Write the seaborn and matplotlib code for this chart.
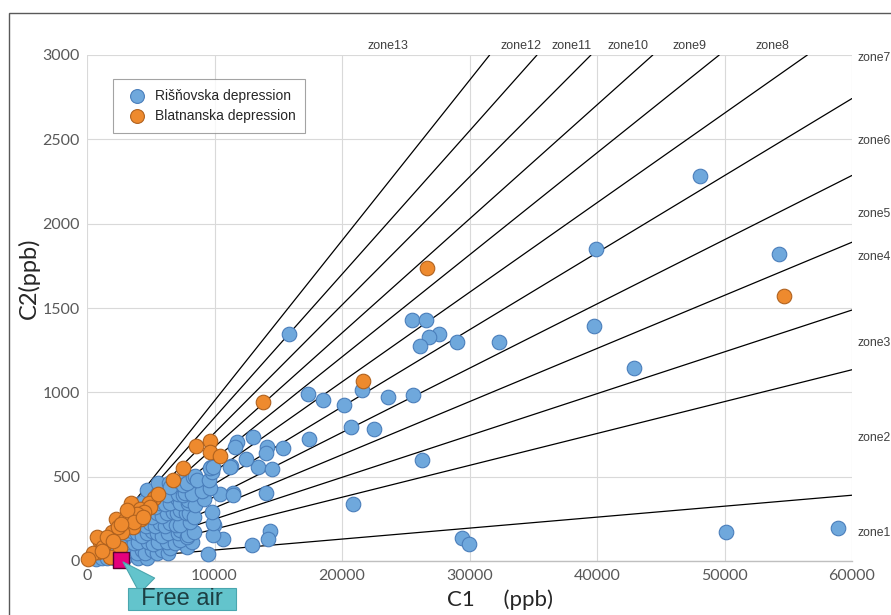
import matplotlib
matplotlib.use("Agg")
import matplotlib.pyplot as plt
import matplotlib.transforms as mtransforms
from matplotlib.patches import Rectangle
import numpy as np
import pandas as pd
import seaborn as sns

# ---------------- data ----------------
risnovska_c1 = [48100, 39900, 54300, 39800, 32300, 42900, 50150, 58900,
                25500, 26550, 27600, 26850, 26150, 29000, 15860, 21540,
                17350, 18480, 20150, 23630, 25580, 12990, 14130, 14030,
                15340, 17430, 20670, 22500, 13430, 14480, 14030, 26290,
                20880, 14350, 14170, 12910, 29380, 29950, 11780, 11600,
                12440, 11270, 11420, 10430, 9960, 10640, 9510,
                700, 1200, 1540, 2100, 3000, 4020, 4700,
                1800, 2330, 2900, 3370, 3900, 4290, 4550, 5070, 5460, 5860, 6370, 6500, 7860,
                2500, 3240, 3700, 4020, 4800, 5200, 5590, 6300, 6900, 7290, 8200,
                2700, 3110, 3500, 3900, 4300, 4680, 5100, 5460, 5900, 6370, 7160, 7290, 7820, 7940, 8400, 9900,
                2900, 3370, 3800, 4155, 4600, 4940, 5300, 5720, 6100, 6500, 7000, 7290, 8100, 9900,
                3600, 4100, 4680, 5100, 5460, 5850, 6250, 6770, 7030, 7290, 7760, 8020, 8400, 9780,
                4100, 4420, 4800, 5300, 5720, 6100, 6500, 7030, 7290, 7940, 7940, 8500, 9170,
                4680, 5460, 5720, 6250, 7160, 7550, 7680, 8210, 8990, 9640, 11470,
                5590, 6450, 6500, 7290, 7550, 7820, 8330, 8470, 8600, 9590, 9780,
                9700, 9640, 9850, 11210]
risnovska_c2 = [2285, 1851, 1822, 1393, 1298, 1145, 170, 193,
                1431, 1427, 1348, 1328, 1275, 1298, 1348, 1012,
                989, 957, 923, 973, 987, 736, 677, 641,
                671, 722, 795, 781, 555, 545, 401, 598,
                337, 178, 130, 95, 134, 101, 706, 677,
                602, 562, 401, 397, 213, 130, 40,
                10, 15, 16, 20, 25, 16, 20,
                50, 65, 45, 65, 50, 65, 46, 65, 46, 65, 46, 75, 85,
                100, 114, 105, 114, 114, 100, 114, 114, 105, 124, 110,
                150, 164, 175, 164, 150, 164, 180, 164, 150, 164, 164, 184, 144, 154, 170, 154,
                200, 223, 210, 223, 205, 223, 210, 223, 205, 223, 215, 213, 230, 223,
                265, 270, 282, 260, 282, 265, 282, 292, 282, 302, 282, 286, 260, 288,
                340, 351, 330, 320, 342, 335, 342, 371, 342, 342, 361, 330, 365,
                420, 400, 430, 391, 400, 391, 401, 400, 416, 430, 391,
                460, 460, 440, 469, 450, 460, 499, 505, 480, 480, 529,
                558, 549, 555, 558]

blatnanska_c1 = [54700, 26650, 21670, 13775, 8520, 9640, 9640, 10430, 7500,
                 6770, 5260, 4880, 3440, 4155, 4940, 3370, 4210, 2300, 2980,
                 3630, 4500, 1940, 2720, 1410, 1019, 760, 890, 494, 1278,
                 2590, 1800, 50, 3900, 1600, 2450, 3150, 1150, 2000, 3700,
                 4400, 5600, 2700]
blatnanska_c2 = [1569, 1740, 1066, 943, 683, 710, 647, 622, 549,
                 482, 371, 342, 343, 307, 322, 282, 247, 250, 243,
                 203, 290, 173, 173, 114, 114, 144, 55, 46, 85,
                 75, 25, 10, 280, 140, 200, 300, 60, 120, 230,
                 260, 400, 220]

free_air_c1 = [2665]
free_air_c2 = [6]

# C2/C1 ratios of the zone boundary lines
zone_ratios = [0.0950, 0.0850, 0.0759, 0.0676, 0.0605, 0.0531,
               0.0457, 0.0381, 0.0315, 0.0248, 0.0189, 0.0065]

x_ticks = [0, 10000, 20000, 30000, 40000, 50000, 60000]
y_ticks = [0, 500, 1000, 1500, 2000, 2500, 3000]

top_zone_labels = ["zone13", "zone12", "zone11", "zone10", "zone9", "zone8"]
top_zone_x = [23600, 34026, 38024, 42414, 47275, 53782]
right_zone_labels = ["zone7", "zone6", "zone5", "zone4", "zone3", "zone2", "zone1"]
right_zone_y = [2984, 2492, 2060, 1800, 1290, 728, 166]

series_names = ["Rišňovska depression", "Blatnanska depression"]

# ---------------- figure ----------------
sns.set_theme(style="white")
plt.rcParams["font.family"] = ["Liberation Sans", "DejaVu Sans"]

W, H = 891, 615
fig = plt.figure(figsize=(W / 100, H / 100), dpi=100)
fig.patch.set_facecolor("white")
ax = fig.add_axes([87 / W, 1 - 561 / H, 765 / W, 506 / H])

ax.set_xlim(0, 60000)
ax.set_ylim(0, 3000)
ax.set_xticks(x_ticks)
ax.set_yticks(y_ticks)
ax.grid(True, color="#d9d9d9", linewidth=0.8, zorder=0)
ax.set_axisbelow(True)
for side in ["top", "right", "left"]:
    ax.spines[side].set_visible(False)
ax.spines["bottom"].set_color("#bfbfbf")
ax.spines["bottom"].set_linewidth(1.0)
ax.tick_params(axis="both", length=0, labelsize=11.5, labelcolor="#595959")
ax.tick_params(axis="y", pad=5)
ax.tick_params(axis="x", pad=6)
for lab in ax.get_xticklabels() + ax.get_yticklabels():
    lab.set_family(["Lato", "DejaVu Sans"])

# zone boundary lines from origin to plot edge
for r in zone_ratios:
    x_end = min(60000, 3000 / r)
    ax.plot([0, x_end], [0, r * x_end], color="black", linewidth=0.9, zorder=2)

df_r = pd.DataFrame({"C1": risnovska_c1, "C2": risnovska_c2})
df_b = pd.DataFrame({"C1": blatnanska_c1, "C2": blatnanska_c2})
sns.scatterplot(data=df_r, x="C1", y="C2", s=110, color="#6FA8DC",
                edgecolor="#4A7EBB", linewidth=0.8, label=series_names[0],
                ax=ax, zorder=3, clip_on=False)
sns.scatterplot(data=df_b, x="C1", y="C2", s=110, color="#EE8A2E",
                edgecolor="#B0621F", linewidth=0.8, label=series_names[1],
                ax=ax, zorder=4, clip_on=False)
sns.scatterplot(x=free_air_c1, y=free_air_c2, marker="s", s=120,
                color="#E5007D", edgecolor="#5a0030", linewidth=1.0,
                ax=ax, zorder=6, legend=False, clip_on=False)

ax.set_xlabel("")
ax.set_ylabel("")

handles, labels = ax.get_legend_handles_labels()
leg = ax.legend(handles[:2], labels[:2], loc="upper left",
                bbox_to_anchor=(26 / 765, (561 - 79) / 506),
                frameon=True, fancybox=False, edgecolor="#8c8c8c",
                fontsize=10, borderaxespad=0, handletextpad=0.3,
                borderpad=0.7, labelspacing=0.45, markerscale=0.95)
leg.get_frame().set_linewidth(0.8)

# zone labels
trans_top = mtransforms.blended_transform_factory(ax.transData, ax.transAxes)
for name, xv in zip(top_zone_labels, top_zone_x):
    ax.text(xv, (561 - 46) / 506, name, transform=trans_top, ha="center",
            va="center", fontsize=9, color="#404040", clip_on=False)
trans_right = mtransforms.blended_transform_factory(ax.transAxes, ax.transData)
for name, yv in zip(right_zone_labels, right_zone_y):
    ax.text((857 - 87) / 765, yv, name, transform=trans_right, ha="left",
            va="center", fontsize=8.8, color="#404040", clip_on=False)

# axis titles
fig.text(500 / W, 1 - 600 / H, "C1     (ppb)", ha="center", va="center",
         fontsize=16, color="#262626", family=["Lato", "DejaVu Sans"])
fig.text(29 / W, 1 - 278 / H, "C2(ppb)", ha="center", va="center",
         rotation=90, fontsize=17, color="#262626", family=["Lato", "DejaVu Sans"])

# Free air callout
ax.annotate("  Free air  ", xy=(free_air_c1[0], free_air_c2[0]), xycoords="data",
            xytext=(182, H - 599), textcoords="figure pixels",
            ha="center", va="center", fontsize=17, color="#1d3f43",
            bbox=dict(boxstyle="square,pad=0.0", fc="#63C4CC", ec="#4aa6ae", lw=0.8),
            arrowprops=dict(arrowstyle="wedge,tail_width=0.9,shrink_factor=0.5",
                            fc="#63C4CC", ec="#4aa6ae", lw=0.8, relpos=(0.2, 1.0)),
            annotation_clip=False, zorder=7)

# outer frame
fig.patches.append(Rectangle((9 / W, -0.1), 1.2, 0.1 + (H - 13) / H,
                             transform=fig.transFigure, fill=False,
                             edgecolor="#595959", linewidth=1.0))

fig.savefig("out.png", dpi=100, facecolor="white")
